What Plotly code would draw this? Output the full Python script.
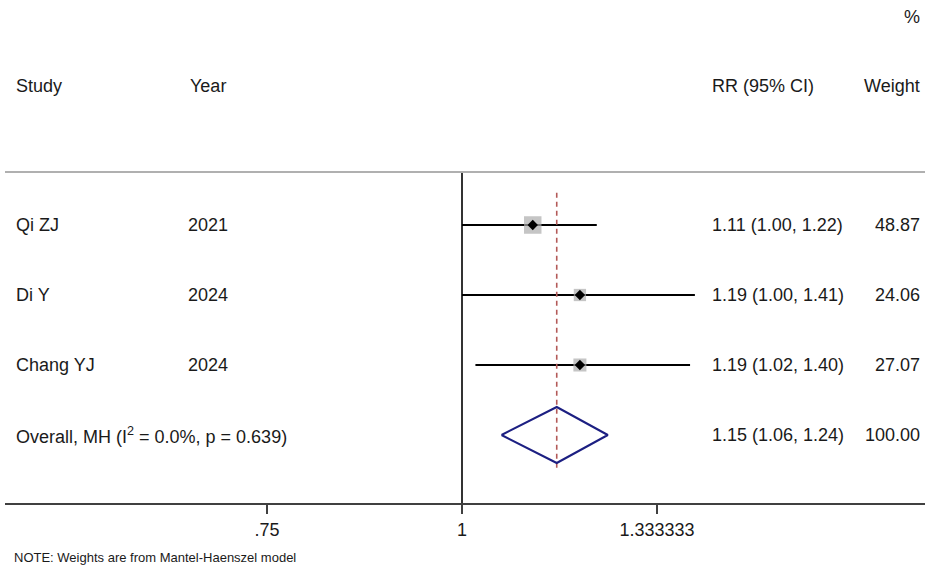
import numpy as np
import plotly.graph_objects as go

# ---- data ----
studies = ["Qi ZJ", "Di Y", "Chang YJ"]
years = ["2021", "2024", "2024"]
rr = [1.11, 1.19, 1.19]
ci_low = [1.00, 1.00, 1.02]
ci_high = [1.22, 1.41, 1.40]
weights = [48.87, 24.06, 27.07]

overall_label = "Overall, MH (I<sup>2</sup> = 0.0%, p = 0.639)"
overall_rr = 1.15
overall_low = 1.06
overall_high = 1.24
overall_weight = 100.00

tick_vals = [0.75, 1.0, 4 / 3]
tick_text = [".75", "1", "1.333333"]
note = "NOTE: Weights are from Mantel-Haenszel model"

# ---- layout geometry ----
W, H = 925, 568
ML, MR, MT, MB = 5, 0, 0, 65
PW, PH = W - ML - MR, H - MT - MB
PX_PER_LOG10 = 1560.7           # horizontal scale of the log axis
X_NULL_PX = 462                 # pixel where RR = 1
ROW0_PX, ROW_STEP = 225, 70     # first study row and row spacing

x_left = -(X_NULL_PX - ML) / PX_PER_LOG10
x_right = (W - MR - X_NULL_PX) / PX_PER_LOG10
y_top = -(ROW0_PX - MT) / ROW_STEP
y_bot = (MT + PH - ROW0_PX) / ROW_STEP


def px(xpix):
    """figure pixel -> paper fraction of the plot area"""
    return (xpix - ML) / PW


FONT = "Liberation Sans, Arial, sans-serif"
TXT = "#1a1a1a"
FS = 18

rows = list(range(len(studies)))
overall_row = len(studies)
rule_row = -0.757

fig = go.Figure()

# null line at RR = 1
fig.add_trace(go.Scatter(
    x=[1.0, 1.0], y=[rule_row, y_bot], mode="lines",
    line=dict(color="#333333", width=2), hoverinfo="skip", showlegend=False))

# confidence interval lines
for i in rows:
    fig.add_trace(go.Scatter(
        x=[ci_low[i], ci_high[i]], y=[i, i], mode="lines",
        line=dict(color="black", width=2.2), hoverinfo="skip", showlegend=False))

# weight boxes (area proportional to weight)
box_sizes = [17.5 * np.sqrt(w / max(weights)) for w in weights]
fig.add_trace(go.Scatter(
    x=rr, y=rows, mode="markers",
    marker=dict(symbol="square", size=box_sizes, color="#adadad",
                line=dict(width=0)),
    hoverinfo="skip", showlegend=False))

# point estimates
fig.add_trace(go.Scatter(
    x=rr, y=rows, mode="markers",
    marker=dict(symbol="diamond", size=8, color="black", line=dict(width=0)),
    hoverinfo="skip", showlegend=False))

# overall effect line (dashed)
fig.add_trace(go.Scatter(
    x=[overall_rr, overall_rr], y=[-0.46, overall_row + 0.47], mode="lines",
    line=dict(color="#b35a58", width=1.6, dash="5px,4px"),
    hoverinfo="skip", showlegend=False))

# overall diamond
half_h = 0.4
fig.add_trace(go.Scatter(
    x=[overall_low, overall_rr, overall_high, overall_rr, overall_low],
    y=[overall_row, overall_row - half_h, overall_row,
       overall_row + half_h, overall_row],
    mode="lines", line=dict(color="#1c1f82", width=2),
    hoverinfo="skip", showlegend=False))

# top rule under the header
fig.add_shape(type="line", xref="paper", yref="y",
              x0=0, x1=1, y0=rule_row, y1=rule_row,
              line=dict(color="#b0b0b0", width=2))

# ---- text columns ----
ann = []


def add_text(x_pix, y, text, anchor="left", size=FS):
    ann.append(dict(x=px(x_pix), xref="paper", y=y, yref="y", text=text,
                    showarrow=False, xanchor=anchor, yanchor="middle",
                    borderpad=0,
                    font=dict(family=FONT, size=size, color=TXT)))


hdr_row = -1.986
add_text(921, -2.97, "%", "right")
add_text(15, hdr_row, "Study")
add_text(189, hdr_row, "Year")
add_text(711, hdr_row, "RR (95% CI)")
add_text(921, hdr_row, "Weight", "right")

for i in rows:
    add_text(15, i, studies[i])
    add_text(187, i, years[i])
    add_text(711, i, f"{rr[i]:.2f} ({ci_low[i]:.2f}, {ci_high[i]:.2f})")
    add_text(921, i, f"{weights[i]:.2f}", "right")

add_text(15, overall_row, overall_label)
add_text(711, overall_row,
         f"{overall_rr:.2f} ({overall_low:.2f}, {overall_high:.2f})")
add_text(921, overall_row, f"{overall_weight:.2f}", "right")

ann.append(dict(x=px(13), xref="paper", y=-(557 - MT - PH) / PH, yref="paper",
                text=note, showarrow=False, xanchor="left", yanchor="middle",
                borderpad=0,
                font=dict(family="Liberation Sans Narrow, Arial Narrow, sans-serif",
                          size=13, color=TXT)))

fig.update_layout(
    width=W, height=H,
    margin=dict(l=ML, r=MR, t=MT, b=MB, pad=0),
    paper_bgcolor="white", plot_bgcolor="white",
    annotations=ann,
    xaxis=dict(type="log", range=[x_left, x_right], showgrid=False,
               zeroline=False, showline=True, linecolor="#404040", linewidth=2,
               ticks="outside", ticklen=9, tickwidth=2, tickcolor="#404040",
               tickvals=tick_vals, ticktext=tick_text,
               tickfont=dict(family=FONT, size=18, color=TXT),
               fixedrange=True),
    yaxis=dict(range=[y_bot, y_top], visible=False, showgrid=False,
               zeroline=False, fixedrange=True),
)

fig.write_html("out.html")
